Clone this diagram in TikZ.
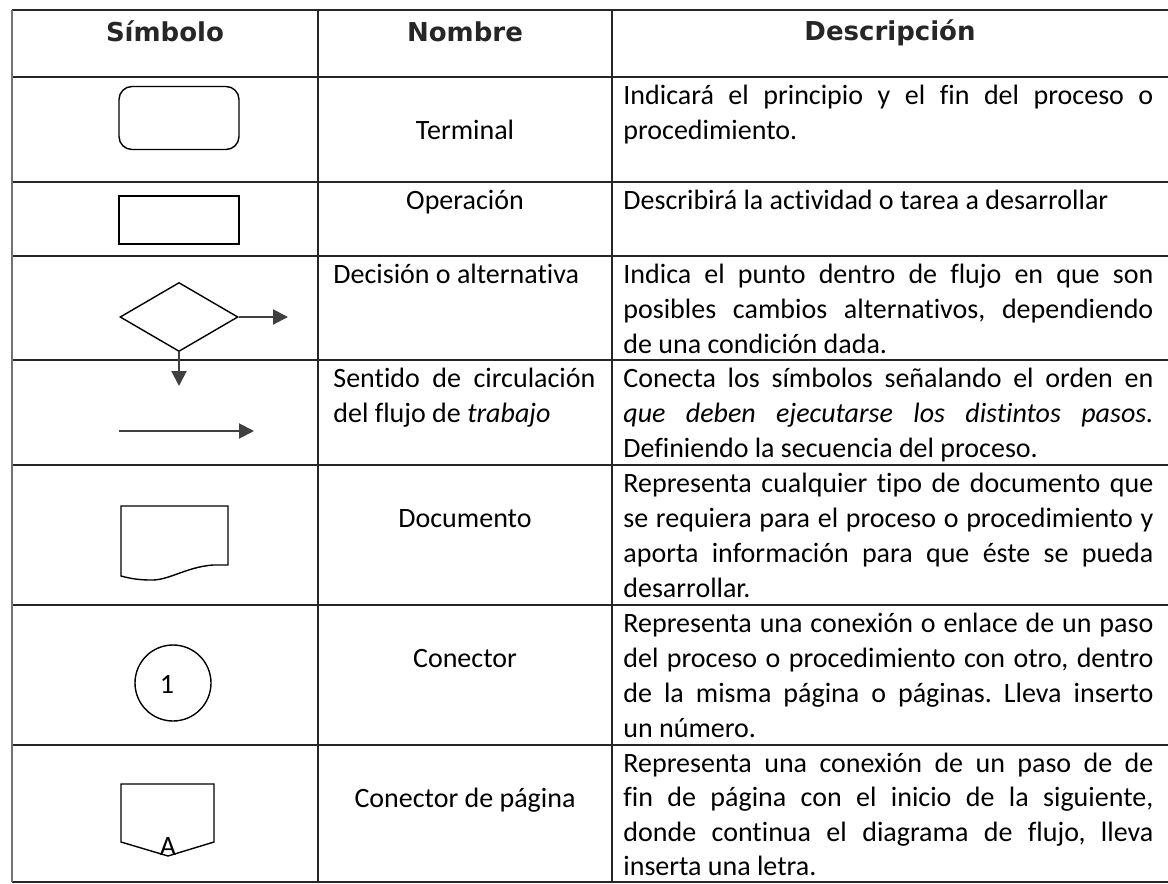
\documentclass[tikz,border=0pt]{standalone}
\usepackage{fontspec}
\setmainfont{Carlito}[Ligatures=NoCommon]
\newfontfamily\hdrfont{DejaVu Sans}
\usetikzlibrary{arrows.meta,shapes.geometric}
\newcommand{\jline}[1]{\makebox[265pt][s]{#1}}
\frenchspacing
\begin{document}
\begin{tikzpicture}[x=0.5pt,y=-0.5pt,
  grid/.style={draw=black!85, line width=0.8pt},
  shp/.style={draw=black, line width=0.7pt},
  arr/.style={draw=black!75, line width=1pt, -{Triangle[length=7.5pt,width=7.5pt]}},
  body/.style={font=\fontsize{14pt}{17.5pt}\selectfont, inner sep=0pt, text=black},
  hdr/.style={font=\hdrfont\bfseries\fontsize{13pt}{15pt}\selectfont, inner sep=0pt, text=black!85}
]
\useasboundingbox[fill=white] (0,0) rectangle (1168,884);
% table grid
\foreach \yy in {10,77,182,256,360,465,605,745,882} {\draw[grid] (12,\yy) -- (1168,\yy);}
\draw[grid, draw=black!55] (12,10) -- (12,882);
\draw[grid] (318,10) -- (318,882);
\draw[grid] (612,10) -- (612,882);
% headers
\node[hdr, anchor=base] (hsim) at (165,41) {Símbolo};
\node[hdr, anchor=base] (hnom) at (465,41) {Nombre};
\node[hdr, anchor=base] (hdes) at (890,40) {Descripción};
% symbols
\node[shp, rounded corners=6.5pt, minimum width=60pt, minimum height=31.5pt, inner sep=0pt] (term) at (179,118) {};
\node[shp, minimum width=60pt, minimum height=24pt, inner sep=0pt] (oper) at (179,220) {};
\node[shp, diamond, minimum width=59pt, minimum height=34.5pt, inner sep=0pt] (dec) at (179,317) {};
\coordinate (decR) at (288,317);
\coordinate (decD) at (179,386);
\draw[arr] (dec.east) -- (decR);
\draw[arr] (dec.south) -- (decD);
\coordinate (fa) at (119,431);
\coordinate (fb) at (254,431);
\draw[arr] (fa) -- (fb);
\draw[shp] (121,506) -- (228,506) -- (228,565) -- (213,565) .. controls (186,567) and (168,581) .. (150,580) .. controls (138,580) and (128,578) .. (121,576) -- cycle;
\node[shp, circle, minimum size=38pt, inner sep=0pt] (con) at (173,683) {};
\node[body] (one) at (167,684) {1};
\draw[shp] (121,784) -- (214,784) -- (214,842) -- (168,856) -- (121,842) -- cycle;
\node[body, anchor=base] (pa) at (168,855) {A};
% names
\node[body, anchor=base] (n1) at (465,139) {Terminal};
\node[body, anchor=base] (n2) at (465,209) {Operación};
\node[body, anchor=base west] (n3) at (333,283) {Decisión o alternativa};
\node[body, anchor=base west] (n4a) at (333,387) {\makebox[131pt][s]{Sentido de circulación}};
\node[body, anchor=base west] (n4b) at (333,422) {del flujo de \textit{trabajo}};
\node[body, anchor=base] (n5) at (465,527) {Documento};
\node[body, anchor=base] (n6) at (465,667) {Conector};
\node[body, anchor=base] (n7) at (465,807) {Conector de página};
% descriptions
\node[body, anchor=base west] (d1a) at (623,104) {\jline{Indicará el principio y el fin del proceso o}};
\node[body, anchor=base west] (d1b) at (623,139) {procedimiento.};
\node[body, anchor=base west] (d2a) at (623,209) {Describirá la actividad o tarea a desarrollar};
\node[body, anchor=base west] (d3a) at (623,283) {\jline{Indica el punto dentro de flujo en que son}};
\node[body, anchor=base west] (d3b) at (623,318) {\jline{posibles cambios alternativos, dependiendo}};
\node[body, anchor=base west] (d3c) at (623,353) {de una condición dada.};
\node[body, anchor=base west] (d4a) at (623,387) {\jline{Conecta los símbolos señalando el orden en}};
\node[body, anchor=base west] (d4b) at (623,422) {\jline{\itshape que deben ejecutarse los distintos pasos.}};
\node[body, anchor=base west] (d4c) at (623,457) {Definiendo la secuencia del proceso.};
\node[body, anchor=base west] (d5a) at (623,492) {\jline{Representa cualquier tipo de documento que}};
\node[body, anchor=base west] (d5b) at (623,527) {\jline{se requiera para el proceso o procedimiento y}};
\node[body, anchor=base west] (d5c) at (623,562) {\jline{aporta información para que éste se pueda}};
\node[body, anchor=base west] (d5d) at (623,597) {desarrollar.};
\node[body, anchor=base west] (d6a) at (623,632) {\jline{Representa una conexión o enlace de un paso}};
\node[body, anchor=base west] (d6b) at (623,667) {\jline{del proceso o procedimiento con otro, dentro}};
\node[body, anchor=base west] (d6c) at (623,702) {\jline{de la misma página o páginas. Lleva inserto}};
\node[body, anchor=base west] (d6d) at (623,737) {un número.};
\node[body, anchor=base west] (d7a) at (623,772) {\jline{Representa una conexión de un paso de de}};
\node[body, anchor=base west] (d7b) at (623,806) {\jline{fin de página con el inicio de la siguiente,}};
\node[body, anchor=base west] (d7c) at (623,841) {\jline{donde continua el diagrama de flujo, lleva}};
\node[body, anchor=base west] (d7d) at (623,875) {inserta una letra.};
\end{tikzpicture}
\end{document}
